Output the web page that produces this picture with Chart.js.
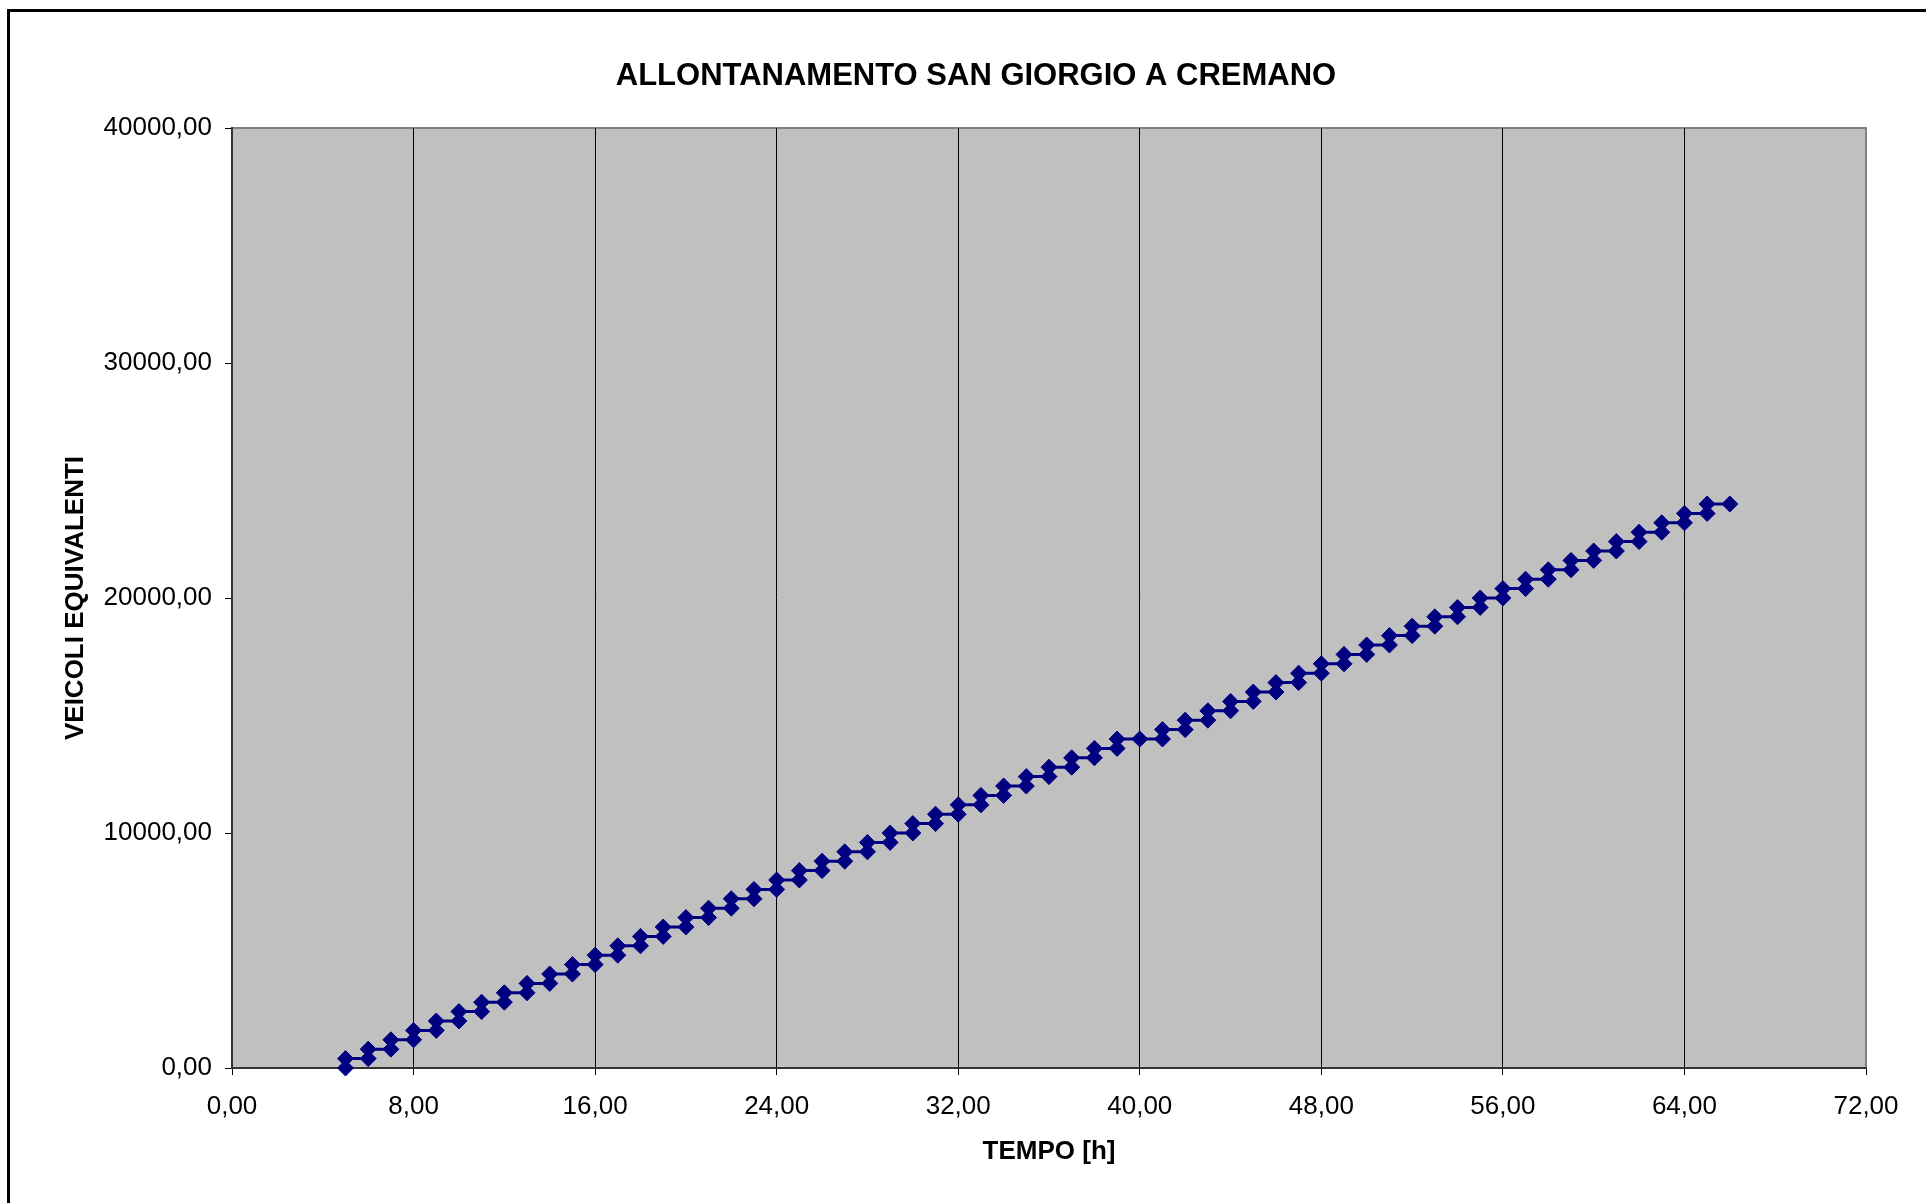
<!DOCTYPE html>
<html>
<head>
<meta charset="utf-8">
<title>Allontanamento San Giorgio a Cremano</title>
<script src="https://cdn.jsdelivr.net/npm/chart.js@4"></script>
<style>
  html, body { margin: 0; padding: 0; background: #fff; overflow: hidden; }
  #wrap { position: relative; width: 1926px; height: 1203px; }
  #frame { position: absolute; left: 7px; top: 9px; width: 2000px; height: 1300px;
           border: 3px solid #000; pointer-events: none; }
</style>
</head>
<body>
<div id="wrap">
  <canvas id="chart" width="1926" height="1203"></canvas>
  <div id="frame"></div>
</div>
<script>
// --- data ---
const TITOLO = "ALLONTANAMENTO SAN GIORGIO A CREMANO";
const TITOLO_X = "TEMPO [h]";
const TITOLO_Y = "VEICOLI EQUIVALENTI";

// hour of each step
const ore = [5, 6, 7, 8, 9, 10, 11, 12, 13, 14, 15, 16, 17, 18, 19, 20, 21, 22, 23, 24,
  25, 26, 27, 28, 29, 30, 31, 32, 33, 34, 35, 36, 37, 38, 39, 40, 41, 42, 43, 44,
  45, 46, 47, 48, 49, 50, 51, 52, 53, 54, 55, 56, 57, 58, 59, 60, 61, 62, 63, 64, 65, 66];

// cumulative vehicles at the start of each hour
const inizio = [0, 400, 800, 1200, 1600, 2000, 2400, 2800, 3200, 3600, 4000, 4400, 4800, 5200,
  5600, 6000, 6400, 6800, 7200, 7600, 8000, 8400, 8800, 9200, 9600, 10000, 10400, 10800,
  11200, 11600, 12000, 12400, 12800, 13200, 13600, 14000, 14000, 14400, 14800, 15200,
  15600, 16000, 16400, 16800, 17200, 17600, 18000, 18400, 18800, 19200, 19600, 20000,
  20400, 20800, 21200, 21600, 22000, 22400, 22800, 23200, 23600, 24000];

// cumulative vehicles at the end of each hour
const fine = [400, 800, 1200, 1600, 2000, 2400, 2800, 3200, 3600, 4000, 4400, 4800, 5200, 5600,
  6000, 6400, 6800, 7200, 7600, 8000, 8400, 8800, 9200, 9600, 10000, 10400, 10800, 11200,
  11600, 12000, 12400, 12800, 13200, 13600, 14000, 14000, 14400, 14800, 15200, 15600,
  16000, 16400, 16800, 17200, 17600, 18000, 18400, 18800, 19200, 19600, 20000, 20400,
  20800, 21200, 21600, 22000, 22400, 22800, 23200, 23600, 24000, 24000];

const tickTempo = [0, 8, 16, 24, 32, 40, 48, 56, 64, 72];
const tickVeicoli = [0, 10000, 20000, 30000, 40000];

// --- helpers ---
const FONT = "'Liberation Sans', Arial, sans-serif";
const fmt = (v) => v.toFixed(2).replace(".", ",");

// staircase: two points per hour (start, end)
const punti = [];
ore.forEach((h, i) => {
  punti.push({ x: h, y: inizio[i] });
  if (fine[i] !== inizio[i]) punti.push({ x: h, y: fine[i] });
});

// grey plot area + chart title
const sfondo = {
  id: "sfondo",
  beforeDraw(chart) {
    const { ctx, chartArea: a } = chart;
    ctx.save();
    ctx.fillStyle = "#C0C0C0";
    ctx.fillRect(a.left, a.top, a.width, a.height);
    ctx.strokeStyle = "#808080";
    ctx.lineWidth = 2;
    ctx.strokeRect(a.left, a.top, a.width, a.height);
    ctx.restore();
  },
  afterDraw(chart) {
    const ctx = chart.ctx;
    ctx.save();
    ctx.font = "bold 31px " + FONT;
    ctx.fillStyle = "#000";
    ctx.textAlign = "center";
    ctx.textBaseline = "middle";
    ctx.fillText(TITOLO, 976, 76);
    ctx.restore();
  },
};

new Chart(document.getElementById("chart"), {
  type: "scatter",
  data: {
    datasets: [
      {
        label: TITOLO,
        data: punti,
        showLine: true,
        tension: 0,
        borderColor: "#000080",
        borderWidth: 3,
        pointStyle: "rectRot",
        pointRadius: 8,
        pointBorderWidth: 1,
        pointBackgroundColor: "#000080",
        pointBorderColor: "#000080",
        clip: false,
      },
    ],
  },
  options: {
    responsive: false,
    animation: false,
    layout: { padding: { top: 128, left: 0, right: 60, bottom: 0 } },
    scales: {
      x: {
        type: "linear",
        min: 0,
        max: 72,
        afterBuildTicks: (s) => { s.ticks = tickTempo.map((v) => ({ value: v })); },
        afterFit: (s) => { s.height = 135; },
        ticks: {
          callback: (v) => fmt(v),
          font: { family: FONT, size: 26 },
          color: "#000",
          padding: 16,
          maxRotation: 0,
          autoSkip: false,
        },
        grid: {
          color: (c) => (c.tick && c.tick.value === 72 ? "#808080" : "#000"),
          lineWidth: 1,
          tickLength: 7,
          tickColor: "#000",
        },
        border: { color: "#333", width: 2 },
        title: {
          display: true,
          text: TITOLO_X,
          color: "#000",
          font: { family: FONT, size: 26, weight: "bold" },
          padding: { top: 0, bottom: 36 },
        },
      },
      y: {
        type: "linear",
        min: 0,
        max: 40000,
        afterBuildTicks: (s) => { s.ticks = tickVeicoli.map((v) => ({ value: v })); },
        afterFit: (s) => { s.width = 232; },
        ticks: {
          callback: (v) => fmt(v),
          font: { family: FONT, size: 26 },
          color: "#000",
          padding: 13,
        },
        grid: {
          drawOnChartArea: false,
          tickLength: 7,
          tickColor: "#000",
        },
        border: { color: "#333", width: 2 },
        title: {
          display: true,
          text: TITOLO_Y,
          color: "#000",
          font: { family: FONT, size: 26, weight: "bold" },
          padding: { top: 60, bottom: 0 },
        },
      },
    },
    plugins: {
      legend: { display: false },
      tooltip: { enabled: false },
    },
  },
  plugins: [sfondo],
});
</script>
</body>
</html>
